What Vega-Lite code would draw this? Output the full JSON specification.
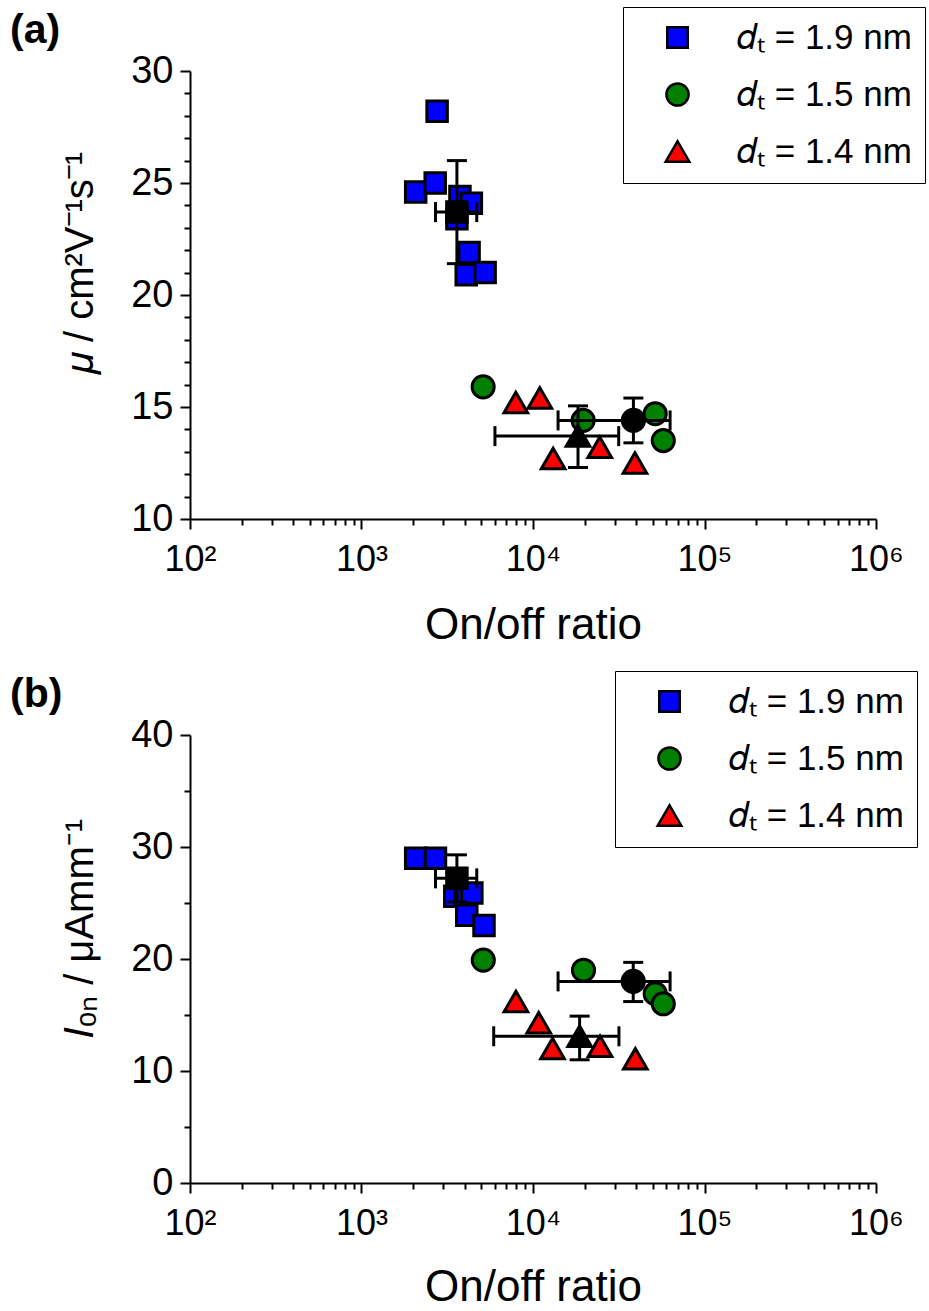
{
  "$schema": "https://vega.github.io/schema/vega-lite/v6.json",
  "background": "white",
  "padding": {"left": 10, "top": 6, "right": 0, "bottom": 0},
  "spacing": 23,
  "resolve": {"scale": {"color": "independent", "shape": "independent", "size": "independent"}, "legend": {"color": "independent", "shape": "independent", "size": "independent"}},
  "config": {
    "view": {"stroke": null},
    "font": "Liberation Sans",
    "axis": {"domainColor": "black", "domainWidth": 2, "tickColor": "black", "tickWidth": 2, "labelColor": "black", "titleColor": "black", "grid": false, "labelFont": "Liberation Sans", "titleFont": "Liberation Sans", "titleFontWeight": "normal", "labelFlush": false}
  },
  "datasets": {
    "a_raw": [
      {"x": 2070, "y": 24.6, "series": "1.9"}, {"x": 2690, "y": 25.0, "series": "1.9"}, {"x": 2760, "y": 28.2, "series": "1.9"},
      {"x": 3750, "y": 24.4, "series": "1.9"}, {"x": 4370, "y": 24.1, "series": "1.9"}, {"x": 3600, "y": 23.4, "series": "1.9"},
      {"x": 4240, "y": 21.9, "series": "1.9"}, {"x": 4080, "y": 20.9, "series": "1.9"}, {"x": 5260, "y": 21.0, "series": "1.9"},
      {"x": 5120, "y": 15.9, "series": "1.5"}, {"x": 19600, "y": 14.4, "series": "1.5"}, {"x": 51600, "y": 14.7, "series": "1.5"}, {"x": 57500, "y": 13.5, "series": "1.5"},
      {"x": 7940, "y": 15.2, "series": "1.4"}, {"x": 10960, "y": 15.4, "series": "1.4"}, {"x": 13100, "y": 12.7, "series": "1.4"}, {"x": 24500, "y": 13.2, "series": "1.4"}, {"x": 39300, "y": 12.5, "series": "1.4"}
    ],
    "a_mean": [
      {"x": 3600, "y": 23.7, "xlo": 2700, "xhi": 4700, "ylo": 21.4, "yhi": 26.0, "series": "1.9"},
      {"x": 38500, "y": 14.4, "xlo": 14000, "xhi": 63000, "ylo": 13.4, "yhi": 15.4, "series": "1.5"},
      {"x": 18300, "y": 13.7, "xlo": 6000, "xhi": 31600, "ylo": 12.3, "yhi": 15.05, "series": "1.4"}
    ],
    "b_raw": [
      {"x": 2070, "y": 29.0, "series": "1.9"}, {"x": 2700, "y": 29.0, "series": "1.9"}, {"x": 3500, "y": 25.6, "series": "1.9"},
      {"x": 4020, "y": 25.6, "series": "1.9"}, {"x": 4400, "y": 25.9, "series": "1.9"}, {"x": 4110, "y": 23.9, "series": "1.9"}, {"x": 5180, "y": 23.0, "series": "1.9"},
      {"x": 5130, "y": 19.9, "series": "1.5"}, {"x": 19700, "y": 19.0, "series": "1.5"}, {"x": 51600, "y": 16.9, "series": "1.5"}, {"x": 57500, "y": 16.0, "series": "1.5"},
      {"x": 7950, "y": 16.2, "series": "1.4"}, {"x": 10800, "y": 14.3, "series": "1.4"}, {"x": 13000, "y": 12.0, "series": "1.4"}, {"x": 24600, "y": 12.2, "series": "1.4"}, {"x": 39500, "y": 11.1, "series": "1.4"}
    ],
    "b_mean": [
      {"x": 3600, "y": 27.2, "xlo": 2700, "xhi": 4700, "ylo": 25.1, "yhi": 29.3, "series": "1.9"},
      {"x": 38400, "y": 18.0, "xlo": 14000, "xhi": 63000, "ylo": 16.2, "yhi": 19.7, "series": "1.5"},
      {"x": 18700, "y": 13.1, "xlo": 5900, "xhi": 31700, "ylo": 11.0, "yhi": 14.9, "series": "1.4"}
    ]
  },
  "vconcat": [
    {
      "width": 686, "height": 448,
      "title": {"text": "(a)", "anchor": "start", "frame": "group", "dx": -180, "dy": 45, "offset": 0, "fontSize": 41, "fontWeight": "bold", "font": "Liberation Sans", "color": "black"},
      "resolve": {"axis": {"x": "independent", "y": "independent"}},
      "layer": [
        {
          "data": {"name": "a_raw"},
          "mark": {"type": "point", "filled": true, "opacity": 1, "stroke": "black", "strokeWidth": 3},
          "encoding": {
            "x": {"field": "x", "type": "quantitative", "scale": {"type": "log", "domain": [100, 1000000], "nice": false},
                  "axis": {"orient": "bottom", "values": [100, 1000, 10000, 100000, 1000000], "tickSize": 10, "labelPadding": 13, "labelFontSize": 36, "labelExpr": "datum.value == 100 ? '10²' : datum.value == 1000 ? '10³' : datum.value == 10000 ? '10⁴' : datum.value == 100000 ? '10⁵' : '10⁶'", "title": "On/off ratio", "titleFontSize": 44, "titlePadding": 26}},
            "y": {"field": "y", "type": "quantitative", "scale": {"domain": [10, 30], "nice": false, "zero": false},
                  "axis": {"orient": "left", "values": [10, 15, 20, 25, 30], "tickSize": 10, "labelPadding": 7, "labelFontSize": 38, "title": "𝜇 / cm²V⁻¹s⁻¹", "titleFontSize": 40, "titlePadding": 30, "titleY": 192}},
            "color": {"field": "series", "type": "nominal", "scale": {"domain": ["1.9", "1.5", "1.4"], "range": ["#0000ff", "#008000", "#ff0000"]},
                      "legend": {"title": null, "orient": "none", "legendX": 433, "legendY": -64, "labelExpr": "'𝑑ₜ = ' + datum.label + ' nm'", "labelFontSize": 35, "labelLimit": 400, "labelFont": "Liberation Sans", "labelColor": "black", "symbolSize": 420, "symbolStrokeColor": "black", "symbolStrokeWidth": 2.5, "rowPadding": 21, "padding": 13, "symbolOffset": 24, "labelOffset": 42, "strokeColor": "black", "fillColor": "white"}},
            "shape": {"field": "series", "type": "nominal", "scale": {"domain": ["1.9", "1.5", "1.4"], "range": ["square", "circle", "triangle-up"]},
                      "legend": {"title": null, "orient": "none", "legendX": 433, "legendY": -64, "labelExpr": "'𝑑ₜ = ' + datum.label + ' nm'", "labelFontSize": 35, "labelLimit": 400, "labelFont": "Liberation Sans", "labelColor": "black", "symbolSize": 420, "symbolStrokeColor": "black", "symbolStrokeWidth": 2.5, "rowPadding": 21, "padding": 13, "symbolOffset": 24, "labelOffset": 42, "strokeColor": "black", "fillColor": "white"}},
            "size": {"field": "series", "type": "nominal", "scale": {"domain": ["1.9", "1.5", "1.4"], "range": [420, 560, 800]}, "legend": null}
          }
        },
        {
          "data": {"name": "a_mean"},
          "mark": {"type": "errorbar", "thickness": 3, "color": "black", "opacity": 1, "rule": {"color": "black", "opacity": 1, "strokeWidth": 3}, "ticks": {"size": 20, "thickness": 3, "color": "black", "opacity": 1}},
          "encoding": {
            "x": {"field": "xlo", "type": "quantitative", "scale": {"type": "log", "domain": [100, 1000000], "nice": false}, "axis": null},
            "x2": {"field": "xhi"},
            "y": {"field": "y", "type": "quantitative", "scale": {"domain": [10, 30], "nice": false, "zero": false}, "axis": null}
          }
        },
        {
          "data": {"name": "a_mean"},
          "mark": {"type": "errorbar", "thickness": 3, "color": "black", "opacity": 1, "rule": {"color": "black", "opacity": 1, "strokeWidth": 3}, "ticks": {"size": 20, "thickness": 3, "color": "black", "opacity": 1}},
          "encoding": {
            "y": {"field": "ylo", "type": "quantitative", "scale": {"domain": [10, 30], "nice": false, "zero": false}, "axis": null},
            "y2": {"field": "yhi"},
            "x": {"field": "x", "type": "quantitative", "scale": {"type": "log", "domain": [100, 1000000], "nice": false}, "axis": null}
          }
        },
        {
          "data": {"name": "a_mean"},
          "mark": {"type": "point", "filled": true, "opacity": 1, "color": "black", "stroke": "black", "strokeWidth": 3},
          "encoding": {
            "x": {"field": "x", "type": "quantitative", "scale": {"type": "log", "domain": [100, 1000000], "nice": false},
                  "axis": {"orient": "bottom", "values": [200, 300, 400, 500, 600, 700, 800, 900, 2000, 3000, 4000, 5000, 6000, 7000, 8000, 9000, 20000, 30000, 40000, 50000, 60000, 70000, 80000, 90000, 200000, 300000, 400000, 500000, 600000, 700000, 800000, 900000], "tickSize": 6, "labels": false, "domain": false, "title": null}},
            "y": {"field": "y", "type": "quantitative", "scale": {"domain": [10, 30], "nice": false, "zero": false},
                  "axis": {"orient": "left", "values": [11, 12, 13, 14, 16, 17, 18, 19, 21, 22, 23, 24, 26, 27, 28, 29], "tickSize": 6, "labels": false, "domain": false, "title": null}},
            "shape": {"field": "series", "type": "nominal", "scale": {"domain": ["1.9", "1.5", "1.4"], "range": ["square", "circle", "triangle-up"]}, "legend": null},
            "size": {"field": "series", "type": "nominal", "scale": {"domain": ["1.9", "1.5", "1.4"], "range": [420, 560, 800]}, "legend": null}
          }
        }
      ]
    },
    {
      "width": 686, "height": 448,
      "title": {"text": "(b)", "anchor": "start", "frame": "group", "dx": -180, "dy": 45, "offset": 0, "fontSize": 41, "fontWeight": "bold", "font": "Liberation Sans", "color": "black"},
      "resolve": {"axis": {"x": "independent", "y": "independent"}},
      "layer": [
        {
          "data": {"name": "b_raw"},
          "mark": {"type": "point", "filled": true, "opacity": 1, "stroke": "black", "strokeWidth": 3},
          "encoding": {
            "x": {"field": "x", "type": "quantitative", "scale": {"type": "log", "domain": [100, 1000000], "nice": false},
                  "axis": {"orient": "bottom", "values": [100, 1000, 10000, 100000, 1000000], "tickSize": 10, "labelPadding": 13, "labelFontSize": 36, "labelExpr": "datum.value == 100 ? '10²' : datum.value == 1000 ? '10³' : datum.value == 10000 ? '10⁴' : datum.value == 100000 ? '10⁵' : '10⁶'", "title": "On/off ratio", "titleFontSize": 44, "titlePadding": 24}},
            "y": {"field": "y", "type": "quantitative", "scale": {"domain": [0, 40], "nice": false, "zero": false},
                  "axis": {"orient": "left", "values": [0, 10, 20, 30, 40], "tickSize": 10, "labelPadding": 7, "labelFontSize": 38, "title": "𝐼ₒₙ / μAmm⁻¹", "titleFontSize": 40, "titlePadding": 30, "titleY": 193}},
            "color": {"field": "series", "type": "nominal", "scale": {"domain": ["1.9", "1.5", "1.4"], "range": ["#0000ff", "#008000", "#ff0000"]},
                      "legend": {"title": null, "orient": "none", "legendX": 425, "legendY": -64, "labelExpr": "'𝑑ₜ = ' + datum.label + ' nm'", "labelFontSize": 35, "labelLimit": 400, "labelFont": "Liberation Sans", "labelColor": "black", "symbolSize": 420, "symbolStrokeColor": "black", "symbolStrokeWidth": 2.5, "rowPadding": 21, "padding": 13, "symbolOffset": 24, "labelOffset": 42, "strokeColor": "black", "fillColor": "white"}},
            "shape": {"field": "series", "type": "nominal", "scale": {"domain": ["1.9", "1.5", "1.4"], "range": ["square", "circle", "triangle-up"]},
                      "legend": {"title": null, "orient": "none", "legendX": 425, "legendY": -64, "labelExpr": "'𝑑ₜ = ' + datum.label + ' nm'", "labelFontSize": 35, "labelLimit": 400, "labelFont": "Liberation Sans", "labelColor": "black", "symbolSize": 420, "symbolStrokeColor": "black", "symbolStrokeWidth": 2.5, "rowPadding": 21, "padding": 13, "symbolOffset": 24, "labelOffset": 42, "strokeColor": "black", "fillColor": "white"}},
            "size": {"field": "series", "type": "nominal", "scale": {"domain": ["1.9", "1.5", "1.4"], "range": [420, 560, 800]}, "legend": null}
          }
        },
        {
          "data": {"name": "b_mean"},
          "mark": {"type": "errorbar", "thickness": 3, "color": "black", "opacity": 1, "rule": {"color": "black", "opacity": 1, "strokeWidth": 3}, "ticks": {"size": 20, "thickness": 3, "color": "black", "opacity": 1}},
          "encoding": {
            "x": {"field": "xlo", "type": "quantitative", "scale": {"type": "log", "domain": [100, 1000000], "nice": false}, "axis": null},
            "x2": {"field": "xhi"},
            "y": {"field": "y", "type": "quantitative", "scale": {"domain": [0, 40], "nice": false, "zero": false}, "axis": null}
          }
        },
        {
          "data": {"name": "b_mean"},
          "mark": {"type": "errorbar", "thickness": 3, "color": "black", "opacity": 1, "rule": {"color": "black", "opacity": 1, "strokeWidth": 3}, "ticks": {"size": 20, "thickness": 3, "color": "black", "opacity": 1}},
          "encoding": {
            "y": {"field": "ylo", "type": "quantitative", "scale": {"domain": [0, 40], "nice": false, "zero": false}, "axis": null},
            "y2": {"field": "yhi"},
            "x": {"field": "x", "type": "quantitative", "scale": {"type": "log", "domain": [100, 1000000], "nice": false}, "axis": null}
          }
        },
        {
          "data": {"name": "b_mean"},
          "mark": {"type": "point", "filled": true, "opacity": 1, "color": "black", "stroke": "black", "strokeWidth": 3},
          "encoding": {
            "x": {"field": "x", "type": "quantitative", "scale": {"type": "log", "domain": [100, 1000000], "nice": false},
                  "axis": {"orient": "bottom", "values": [200, 300, 400, 500, 600, 700, 800, 900, 2000, 3000, 4000, 5000, 6000, 7000, 8000, 9000, 20000, 30000, 40000, 50000, 60000, 70000, 80000, 90000, 200000, 300000, 400000, 500000, 600000, 700000, 800000, 900000], "tickSize": 6, "labels": false, "domain": false, "title": null}},
            "y": {"field": "y", "type": "quantitative", "scale": {"domain": [0, 40], "nice": false, "zero": false},
                  "axis": {"orient": "left", "values": [5, 15, 25, 35], "tickSize": 6, "labels": false, "domain": false, "title": null}},
            "shape": {"field": "series", "type": "nominal", "scale": {"domain": ["1.9", "1.5", "1.4"], "range": ["square", "circle", "triangle-up"]}, "legend": null},
            "size": {"field": "series", "type": "nominal", "scale": {"domain": ["1.9", "1.5", "1.4"], "range": [420, 560, 800]}, "legend": null}
          }
        }
      ]
    }
  ]
}
